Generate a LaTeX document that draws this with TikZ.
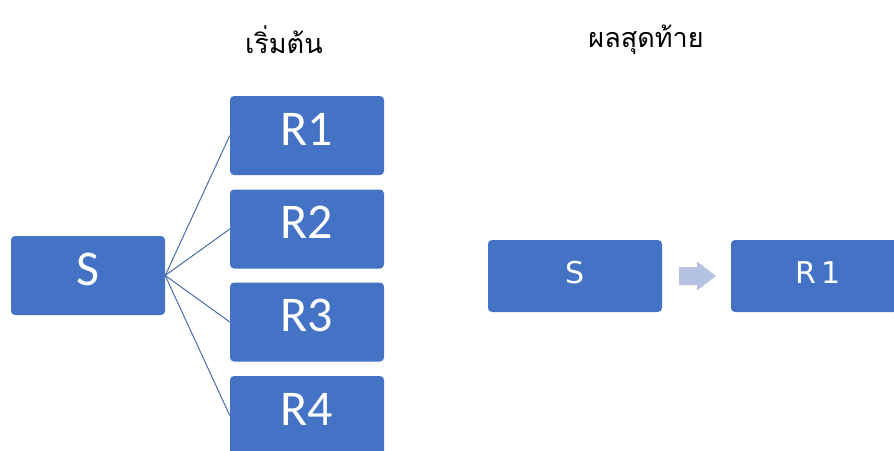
\documentclass[tikz,border=0pt]{standalone}
\usepackage{fontspec}
\setmainfont{Carlito}
\newfontfamily\thaifont[Script=Thai]{Loma}
\newfontfamily\boxfont[LetterSpace=18]{DejaVu Sans}
\usetikzlibrary{calc}
\definecolor{officeblue}{HTML}{4472C4}
\definecolor{fanblue}{HTML}{4A6CAA}
\definecolor{paleblue}{HTML}{B4C3E1}
\begin{document}
\begin{tikzpicture}[x=1pt,y=-1pt,
  bigbox/.style={fill=officeblue,rounded corners=4pt,minimum width=154pt,minimum height=79pt,
    inner sep=0pt,text=white,font=\fontsize{50}{50}\selectfont,text height=33pt,text depth=14pt},
  smallbox/.style={fill=officeblue,rounded corners=4pt,minimum width=174pt,minimum height=72pt,
    inner sep=0pt,text=white,font=\boxfont\fontsize{30}{30}\selectfont,text height=21pt,text depth=7pt},
  fan/.style={draw=fanblue,line width=1pt},
  title/.style={font=\thaifont\fontsize{27}{27}\selectfont,inner sep=0pt},
  blockarrow/.style={fill=paleblue}
]
\useasboundingbox (0,0) rectangle (894,450);

% headings
\node[title] (t1) at (284,40) {เริ่มต้น};
\node[title] (t2) at (646,40) {ผลสุดท้าย};

% left: one source fanning out to four targets
\node[bigbox] (s)  at (88,275.5)  {S};
\node[bigbox] (r1) at (307,135.5) {R1};
\node[bigbox] (r2) at (307,229)   {R2};
\node[bigbox] (r3) at (307,322)   {R3};
\node[bigbox] (r4) at (307,415.5) {R4};
\foreach \r in {r1,r2,r3,r4}
  \draw[fan] (s.east) -- (\r.west);

% right: single result
\node[smallbox] (s2)  at (575,276) {S};
\node[smallbox] (rr1) at (818,276) {R1};

% block arrow between the two boxes
\coordinate (ar) at ($(s2.east)!0.5!(rr1.west)$);
\fill[blockarrow] ([shift={(-17.5,-9)}]ar) -- ([shift={(0.5,-9)}]ar) -- ([shift={(0.5,-14.5)}]ar)
  -- ([shift={(19.5,0)}]ar) -- ([shift={(0.5,14.5)}]ar) -- ([shift={(0.5,9)}]ar)
  -- ([shift={(-17.5,9)}]ar) -- cycle;
\end{tikzpicture}
\end{document}
